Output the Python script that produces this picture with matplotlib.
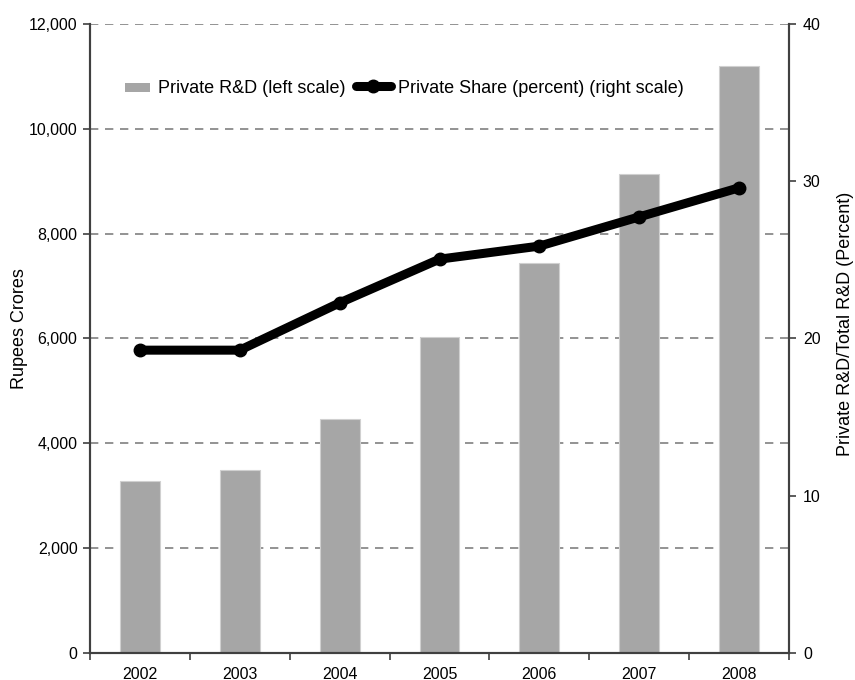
import numpy as np
import matplotlib
matplotlib.use("Agg")
import matplotlib.pyplot as plt
from matplotlib.ticker import FuncFormatter, FixedLocator
from matplotlib.patches import Patch, Rectangle
from matplotlib.lines import Line2D
from matplotlib.legend_handler import HandlerPatch

plt.rcParams['font.family'] = ['Liberation Sans', 'DejaVu Sans']

# data
years = ['2002', '2003', '2004', '2005', '2006', '2007', '2008']
private_rd = [3280, 3490, 4460, 6030, 7440, 9130, 11190]        # Rupees crores
private_share = [19.25, 19.25, 22.26, 25.04, 25.87, 27.73, 29.58]  # percent

fig = plt.figure(figsize=(8.55, 6.8), dpi=100)
ax = fig.add_axes([0.1053, 0.0401, 0.8175, 0.9246])
ax2 = ax.twinx()

x = np.arange(len(years))
spine_col = '#404040'
bar_col = '#a6a6a6'

# bars (left scale)
ax.bar(x, private_rd, width=0.4, color=bar_col, edgecolor='#d0d0d0',
       linewidth=0.8, zorder=2)
ax.set_xlim(-0.5, len(years) - 0.5)
ax.set_ylim(0, 12000)
ax.set_yticks(np.arange(0, 12001, 2000))
ax.yaxis.set_major_formatter(FuncFormatter(lambda v, p: f'{int(v):,}'))
ax.grid(axis='y', linestyle=(0, (5, 4)), color='#808080', linewidth=1.2, zorder=0)
ax.set_axisbelow(True)
ax.set_ylabel('Rupees Crores', fontsize=13)
ax.yaxis.set_label_coords(-0.089, 0.515)

# x ticks: marks between categories, labels at centres
edges = np.arange(-0.5, len(years), 1.0)
ax.xaxis.set_major_locator(FixedLocator(edges))
ax.xaxis.set_minor_locator(FixedLocator(x))
ax.set_xticklabels([''] * len(edges))
ax.set_xticklabels(years, minor=True)
ax.tick_params(axis='x', which='major', length=5, color=spine_col, width=1.2)
ax.tick_params(axis='x', which='minor', length=0, labelsize=11.5, pad=10)
ax.tick_params(axis='y', length=5, color=spine_col, width=1.2, labelsize=11.5, pad=4)

# line (right scale)
ax2.plot(x, private_share, color='black', linewidth=6.5, marker='o',
         markersize=9, solid_capstyle='round', zorder=3)
ax2.set_ylim(0, 40)
ax2.set_yticks(np.arange(0, 41, 10))
ax2.tick_params(axis='y', length=5, color=spine_col, width=1.2, labelsize=11.5, pad=5)
ax2.set_ylabel('Private R&D/Total R&D (Percent)', fontsize=13)
ax2.yaxis.set_label_coords(1.0686, 0.5226)

for a in (ax, ax2):
    a.spines['top'].set_visible(False)
    for s in ('left', 'right', 'bottom'):
        a.spines[s].set_color(spine_col)
        a.spines[s].set_linewidth(1.5)


def small_patch(legend, orig_handle, xdescent, ydescent, width, height, fontsize):
    # narrow grey box sitting at the right of the handle area
    return Rectangle((-xdescent + 0.245 * width, -ydescent + 0.05 * height),
                     0.735 * width, 0.75 * height)


handles = [Patch(facecolor=bar_col, edgecolor='none'),
           Line2D([0], [0], color='black', linewidth=6.5, marker='o', markersize=9,
                  solid_capstyle='round')]
labels = ['Private R&D (left scale)', 'Private Share (percent) (right scale)']
ax2.legend(handles, labels, loc='center left', bbox_to_anchor=(0.0383, 0.898),
           ncol=2, frameon=False, fontsize=13, handlelength=1.9, numpoints=1,
           handletextpad=0.4, columnspacing=0.58, borderpad=0, borderaxespad=0,
           handler_map={Patch: HandlerPatch(patch_func=small_patch)})

fig.savefig('out.png', dpi=100)
